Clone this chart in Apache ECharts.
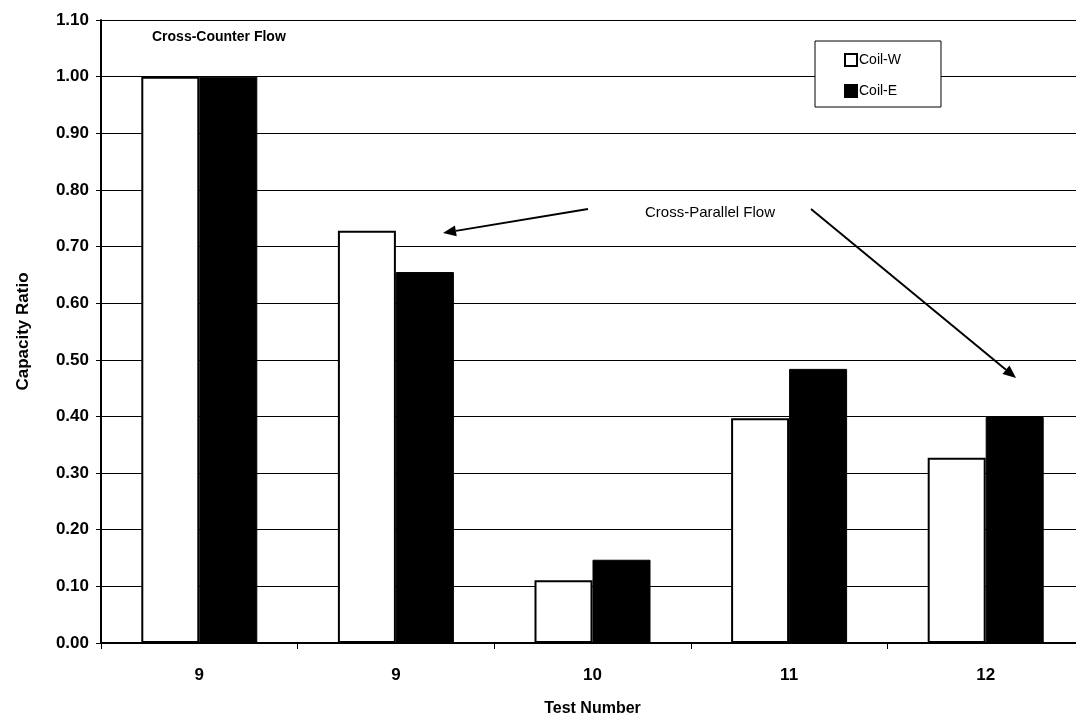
<!DOCTYPE html>
<html>
<head>
<meta charset="utf-8">
<script src="https://cdn.jsdelivr.net/npm/echarts@6/dist/echarts.min.js"></script>
<style>
  html, body { margin: 0; padding: 0; background: #fff; }
  #chart { width: 1076px; height: 719px; }
</style>
</head>
<body>
<div id="chart"></div>
<script>
// Test numbers along the x axis
const tests = ['9', '9', '10', '11', '12'];
// Capacity ratio of each coil per test
const coilW = [1.00, 0.728, 0.111, 0.397, 0.327];
const coilE = [1.00, 0.655, 0.147, 0.484, 0.399];
// Y axis range and step
const yMin = 0, yMax = 1.1, yStep = 0.1;

const font = '"Liberation Sans", Arial, sans-serif';
const chart = echarts.init(document.getElementById('chart'), null, { renderer: 'canvas' });

// Builds a straight arrow (shaft + filled head) as graphic elements
function arrow(x1, y1, x2, y2) {
  const dx = x2 - x1, dy = y2 - y1;
  const len = Math.hypot(dx, dy);
  const ux = dx / len, uy = dy / len;
  const headLen = 13, headHalf = 5.5;
  const bx = x2 - ux * headLen, by = y2 - uy * headLen;
  return [
    { type: 'line', shape: { x1, y1, x2: bx, y2: by },
      style: { stroke: '#000', lineWidth: 2 }, z: 100 },
    { type: 'polygon',
      shape: { points: [[x2, y2], [bx - uy * headHalf, by + ux * headHalf], [bx + uy * headHalf, by - ux * headHalf]] },
      style: { fill: '#000' }, z: 100 }
  ];
}

const option = {
  backgroundColor: '#fff',
  animation: false,
  // the plot runs past the right edge of the page
  grid: { left: 101, top: 20, width: 983, height: 623, containLabel: false, outerBoundsMode: 'none' },
  legend: {
    orient: 'vertical',
    left: 815, top: 41,
    padding: [12, 40, 9, 29],
    itemGap: 17,
    itemWidth: 12, itemHeight: 12,
    icon: 'rect',
    borderColor: '#000', borderWidth: 1,
    backgroundColor: '#fff',
    textStyle: { fontFamily: font, fontSize: 14, color: '#000', padding: [0, 0, 0, -3] },
    data: ['Coil-W', 'Coil-E']
  },
  xAxis: {
    type: 'category',
    data: tests,
    name: 'Test Number',
    nameLocation: 'middle',
    nameGap: 58,
    nameTextStyle: { fontFamily: font, fontSize: 16, fontWeight: 'bold', color: '#000' },
    axisLine: { lineStyle: { color: '#000', width: 2 } },
    axisTick: { show: true, length: 6, lineStyle: { color: '#000', width: 1 } },
    axisLabel: { fontFamily: font, fontSize: 17, fontWeight: 'bold', color: '#000', margin: 24 },
    splitLine: { show: false }
  },
  yAxis: {
    type: 'value',
    min: yMin, max: yMax, interval: yStep,
    name: 'Capacity Ratio',
    nameLocation: 'middle',
    nameGap: 69,
    nameRotate: 90,
    nameTextStyle: { fontFamily: font, fontSize: 17, fontWeight: 'bold', color: '#000' },
    axisLine: { show: true, lineStyle: { color: '#000', width: 2 } },
    axisTick: { show: true, length: 5, lineStyle: { color: '#000', width: 1 } },
    axisLabel: {
      fontFamily: font, fontSize: 17, fontWeight: 'bold', color: '#000', margin: 12,
      formatter: v => v.toFixed(2)
    },
    splitLine: { show: true, lineStyle: { color: '#000', width: 1 } }
  },
  series: [
    {
      name: 'Coil-W', type: 'bar', data: coilW,
      barWidth: 58, barGap: '0%',
      itemStyle: { color: '#fff', borderColor: '#000', borderWidth: 2 },
      emphasis: { disabled: true }
    },
    {
      name: 'Coil-E', type: 'bar', data: coilE,
      barWidth: 58, barGap: '0%',
      itemStyle: { color: '#000', borderColor: '#000', borderWidth: 1 },
      emphasis: { disabled: true }
    }
  ],
  graphic: [
    { type: 'text', left: 152, top: 30, z: 100,
      style: { text: 'Cross-Counter Flow', font: 'bold 14px ' + font, fill: '#000' } },
    { type: 'text', x: 710, y: 213, z: 100,
      style: { text: 'Cross-Parallel Flow', font: '15px ' + font, fill: '#000',
               align: 'center', verticalAlign: 'middle' } },
    ...arrow(588, 209, 443, 233),
    ...arrow(811, 209, 1016, 378)
  ]
};

chart.setOption(option);
</script>
</body>
</html>
